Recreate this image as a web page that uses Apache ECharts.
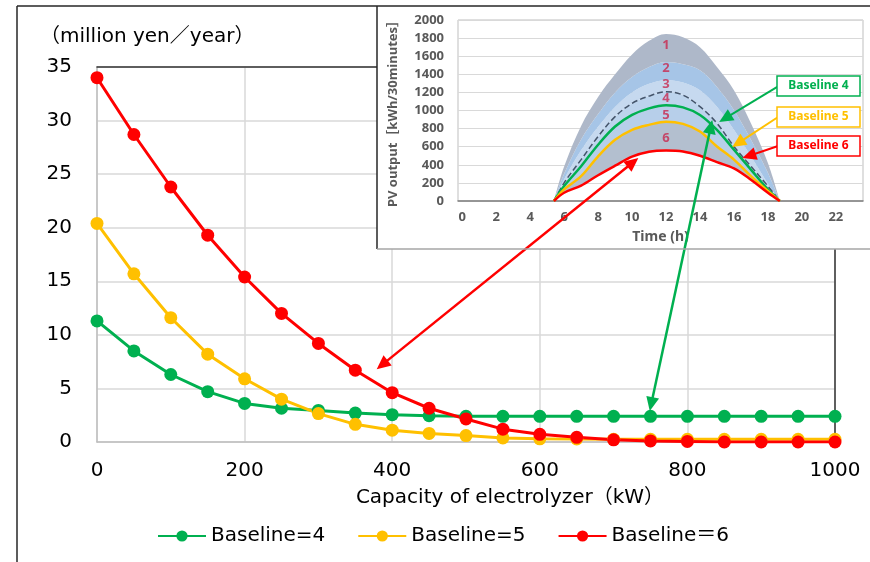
<!DOCTYPE html>
<html>
<head>
<meta charset="utf-8">
<script src="https://cdn.jsdelivr.net/npm/echarts@6/dist/echarts.min.js"></script>
<style>
html,body{margin:0;padding:0;background:#fff;}
#chart{width:870px;height:562px;}
</style>
</head>
<body>
<div id="chart"></div>
<script>
// ---------- Main chart data ----------
const capacityKW = [0,50,100,150,200,250,300,350,400,450,500,550,600,650,700,750,800,850,900,950,1000];
const baseline4 = [11.3,8.5,6.3,4.7,3.6,3.15,2.95,2.7,2.55,2.45,2.4,2.4,2.4,2.4,2.4,2.4,2.4,2.4,2.4,2.4,2.4];
const baseline5 = [20.4,15.7,11.6,8.2,5.9,4.0,2.65,1.65,1.1,0.8,0.6,0.38,0.3,0.28,0.25,0.25,0.25,0.25,0.25,0.25,0.25];
const baseline6 = [34.0,28.7,23.8,19.3,15.4,12.0,9.2,6.7,4.6,3.15,2.15,1.2,0.72,0.44,0.2,0.1,0.05,0.0,0.0,0.0,0.0];
const seriesNames = ['Baseline=4','Baseline=5','Baseline＝6'];
const xTicksMain = [0,200,400,600,800,1000];
const yTicksMain = [0,5,10,15,20,25,30,35];

// ---------- Inset (PV output) data ----------
const timeH    = [5.4, 6, 7, 8, 9, 10, 11, 12, 13, 14, 15, 16, 17, 18, 18.7];
const pvBand1  = [0, 380, 830, 1150, 1400, 1620, 1770, 1846, 1810, 1700, 1480, 1225, 860, 420, 0];
const pvBand2  = [0, 300, 680, 960, 1200, 1370, 1480, 1535, 1510, 1444, 1261, 1005, 676, 311, 0];
const pvBand3  = [0, 240, 560, 820, 1040, 1200, 1295, 1335, 1310, 1225, 1042, 786, 494, 190, 0];
const pvDashed = [0, 201, 457, 713, 932, 1079, 1159, 1207, 1170, 1042, 859, 603, 384, 165, 0];
const pvBase4  = [0, 165, 384, 622, 823, 951, 1024, 1058, 1035, 951, 786, 567, 347, 128, 0];
const pvBase5  = [0, 128, 274, 494, 676, 786, 841, 877, 852, 768, 603, 457, 274, 110, 0];
const pvBase6  = [0, 91, 170, 285, 390, 490, 545, 559, 548, 500, 430, 360, 235, 91, 0];
const timeTicks = [0,2,4,6,8,10,12,14,16,18,20,22];
const bandNames = ['1','2','3','4','5','6'];
const bandLabelT = [12,12,12,12,12,12];
const bandLabelV = [1724,1470,1293,1138,950,696];
const calloutNames = ['Baseline 4','Baseline 5','Baseline 6'];

const FONT = "'DejaVu Sans','Noto Sans CJK JP',sans-serif";
const SMALLFONT = "'Noto Sans','Noto Sans CJK JP',sans-serif";
const GREEN = '#00b050', YELLOW = '#ffc000', RED = '#ff0000';

const pairs = (xs, ys) => xs.map((x, i) => [x, ys[i]]);
const diff = (a, b) => a.map((v, i) => Math.max(0, v - b[i]));
const plain = v => String(v);

const chart = echarts.init(document.getElementById('chart'));

function mainSeries(name, data, color) {
  return {
    name, type: 'line', xAxisIndex: 0, yAxisIndex: 0,
    data: pairs(capacityKW, data),
    symbol: 'circle', symbolSize: 13,
    lineStyle: { color, width: 3 },
    itemStyle: { color },
    z: 2
  };
}

// stacked fills: value first so the value (y) dimension is the stacked one
function fillSeries(name, data, color) {
  return {
    name, type: 'line', xAxisIndex: 2, yAxisIndex: 2, stack: 'pv',
    data: timeH.map((t, i) => [data[i], t]),
    encode: { x: 1, y: 0 },
    smooth: 0.35, showSymbol: false, silent: true,
    lineStyle: { width: 0, opacity: 0 },
    areaStyle: color ? { color, opacity: 1 } : { opacity: 0 },
    z: 16
  };
}
function insetLine(name, data, color, width, type) {
  return {
    name, type: 'line', xAxisIndex: 2, yAxisIndex: 2,
    data: pairs(timeH, data), smooth: 0.35, showSymbol: false, silent: true,
    lineStyle: { color, width, type: type || 'solid' },
    z: 17
  };
}

const option = {
  animation: false,
  backgroundColor: '#fff',
  textStyle: { fontFamily: FONT },
  title: {
    text: '（million yen／year）', left: 35, top: 22,
    textStyle: { fontFamily: FONT, fontSize: 20, fontWeight: 'normal', color: '#000' }
  },
  legend: {
    data: seriesNames, left: 152, top: 521,
    itemWidth: 48, itemHeight: 14, itemGap: 32,
    textStyle: { fontFamily: FONT, fontSize: 20, color: '#000' }
  },
  grid: [
    { left: 97, right: 35, top: 67, bottom: 120 },
    { left: 458, right: 7, top: 20, bottom: 361, show: true, borderColor: '#bfbfbf', borderWidth: 1, backgroundColor: 'transparent', z: 15 }
  ],
  xAxis: [
    {
      type: 'value', gridIndex: 0, min: 0, max: 1000, interval: 200,
      axisLine: { show: true, lineStyle: { color: '#bfbfbf', width: 1.5 } },
      axisTick: { show: false },
      splitLine: { show: true, lineStyle: { color: '#d9d9d9', width: 1.5 } },
      axisLabel: { fontSize: 20, color: '#000', margin: 19, fontFamily: FONT,
        customValues: xTicksMain, formatter: plain },
      name: 'Capacity of electrolyzer（kW）', nameLocation: 'middle', nameGap: 46,
      nameTextStyle: { fontSize: 20, color: '#000', fontFamily: FONT, padding: [0, 0, 0, 88] }
    },
    {
      type: 'value', gridIndex: 0, position: 'top', min: 0, max: 1000,
      axisLine: { show: true, onZero: false, lineStyle: { color: '#333', width: 1.5 } },
      axisTick: { show: false }, axisLabel: { show: false }, splitLine: { show: false }
    },
    {
      type: 'value', gridIndex: 1, min: -0.25, max: 23.6, z: 15,
      axisLine: { show: true, onZero: false, lineStyle: { color: '#7f7f7f', width: 1.5 } },
      axisTick: { show: false }, splitLine: { show: false },
      axisLabel: { customValues: timeTicks, fontSize: 13, fontWeight: 'bold', color: '#595959', margin: 10, fontFamily: SMALLFONT, formatter: plain },
      name: 'Time (h)', nameLocation: 'middle', nameGap: 29,
      nameTextStyle: { fontSize: 14, fontWeight: 'bold', color: '#595959', fontFamily: SMALLFONT }
    }
  ],
  yAxis: [
    {
      type: 'value', gridIndex: 0, min: 0, max: 35, interval: 5,
      axisLine: { show: true, lineStyle: { color: '#bfbfbf', width: 1.5 } },
      axisTick: { show: false },
      splitLine: { show: true, lineStyle: { color: '#d9d9d9', width: 1.5 } },
      axisLabel: { fontSize: 20, color: '#000', margin: 25, fontFamily: FONT, customValues: yTicksMain, formatter: plain }
    },
    {
      type: 'value', gridIndex: 0, position: 'right', min: 0, max: 35,
      axisLine: { show: true, onZero: false, lineStyle: { color: '#333', width: 1.5 } },
      axisTick: { show: false }, axisLabel: { show: false }, splitLine: { show: false }
    },
    {
      type: 'value', gridIndex: 1, min: 0, max: 2000, interval: 200, z: 15,
      axisLine: { show: false }, axisTick: { show: false },
      splitLine: { show: true, lineStyle: { color: '#d9d9d9', width: 1 } },
      axisLabel: { fontSize: 13, fontWeight: 'bold', color: '#595959', margin: 14, fontFamily: SMALLFONT, formatter: plain },
      name: 'PV output［kWh/30minutes］', nameLocation: 'middle', nameGap: 58, nameRotate: 90,
      nameTextStyle: { fontSize: 13, fontWeight: 'bold', color: '#595959', fontFamily: SMALLFONT }
    }
  ],
  series: [
    mainSeries(seriesNames[0], baseline4, GREEN),
    mainSeries(seriesNames[1], baseline5, YELLOW),
    mainSeries(seriesNames[2], baseline6, RED),
    // inset stacked fills (regions between curves)
    fillSeries('base', pvBase6, null),
    fillSeries('r6', diff(pvBase5, pvBase6), '#b3bfcf'),
    fillSeries('r5', diff(pvBase4, pvBase5), '#b7cfea'),
    fillSeries('r4', diff(pvDashed, pvBase4), '#bdd4ed'),
    fillSeries('r3', diff(pvBand3, pvDashed), '#c6d9ef'),
    fillSeries('r2', diff(pvBand2, pvBand3), '#a6c5e7'),
    fillSeries('r1', diff(pvBand1, pvBand2), '#aeb8c9'),
    // inset curves
    insetLine('dashed', pvDashed, '#44546a', 1.5, 'dashed'),
    insetLine('b4', pvBase4, GREEN, 2.5),
    insetLine('b5', pvBase5, YELLOW, 2.5),
    insetLine('b6', pvBase6, RED, 2.5),
    {
      name: 'bandLabels', type: 'scatter', xAxisIndex: 2, yAxisIndex: 2, symbolSize: 0, silent: true, z: 18,
      data: bandNames.map((n, i) => ({ name: n, value: [bandLabelT[i], bandLabelV[i]] })),
      label: { show: true, position: 'inside', formatter: '{b}', color: '#c8284f', fontSize: 13, fontWeight: 'bold', fontFamily: SMALLFONT }
    }
  ]
};
chart.setOption(option);

function arrowEls(a, b, color, width, headA, headB, z) {
  const els = [];
  const dx = b[0] - a[0], dy = b[1] - a[1], len = Math.hypot(dx, dy);
  const ux = dx / len, uy = dy / len;
  const hl = 14, hw = 6.5;
  let s = a.slice(), e = b.slice();
  if (headA) s = [a[0] + ux * hl * 0.8, a[1] + uy * hl * 0.8];
  if (headB) e = [b[0] - ux * hl * 0.8, b[1] - uy * hl * 0.8];
  els.push({ type: 'line', silent: true, z, shape: { x1: s[0], y1: s[1], x2: e[0], y2: e[1] }, style: { stroke: color, lineWidth: width } });
  const head = (tip, vx, vy) => ({
    type: 'polygon', silent: true, z,
    shape: { points: [tip, [tip[0] - vx * hl - vy * hw, tip[1] - vy * hl + vx * hw], [tip[0] - vx * hl + vy * hw, tip[1] - vy * hl - vx * hw]] },
    style: { fill: color }
  });
  if (headB) els.push(head(b, ux, uy));
  if (headA) els.push(head(a, -ux, -uy));
  return els;
}
const pMain = v => chart.convertToPixel({ xAxisIndex: 0, yAxisIndex: 0 }, v);
const pIn = v => chart.convertToPixel({ xAxisIndex: 2, yAxisIndex: 2 }, v);

const graphics = [];
// outer frame
graphics.push({ type: 'line', silent: true, z: 40, shape: { x1: 17, y1: 6, x2: 17, y2: 562 }, style: { stroke: '#262626', lineWidth: 1.5 } });
graphics.push({ type: 'line', silent: true, z: 40, shape: { x1: 17, y1: 6, x2: 870, y2: 6 }, style: { stroke: '#262626', lineWidth: 1.5 } });
// inset background and borders
graphics.push({ type: 'rect', silent: true, z: 10, shape: { x: 377, y: 6, width: 493, height: 243 }, style: { fill: '#fff' } });
graphics.push({ type: 'line', silent: true, z: 40, shape: { x1: 377, y1: 6, x2: 377, y2: 249 }, style: { stroke: '#262626', lineWidth: 1.5 } });
graphics.push({ type: 'line', silent: true, z: 40, shape: { x1: 377, y1: 249, x2: 870, y2: 249 }, style: { stroke: '#a6a6a6', lineWidth: 1.5 } });

// callout boxes
const boxes = [
  { y: 76, color: GREEN },
  { y: 107, color: YELLOW },
  { y: 136, color: RED }
];
boxes.forEach((b, i) => {
  graphics.push({ type: 'rect', silent: true, z: 25, shape: { x: 777, y: b.y, width: 83, height: 20 }, style: { fill: '#fff', stroke: b.color, lineWidth: 1.5 } });
  graphics.push({ type: 'text', silent: true, z: 26, style: { x: 818.5, y: b.y + 10, text: calloutNames[i], fill: b.color, font: "bold 12px 'Noto Sans', sans-serif", align: 'center', verticalAlign: 'middle' } });
});

// callout arrows (inset coords)
graphics.push(...arrowEls(pIn([18.55, 1260]), pIn([15.13, 873]), GREEN, 2, false, true, 24));
graphics.push(...arrowEls(pIn([18.6, 928]), pIn([15.9, 597]), YELLOW, 2, false, true, 24));
graphics.push(...arrowEls(pIn([18.6, 608]), pIn([16.5, 475]), RED, 2, false, true, 24));
// linking double arrows
graphics.push(...arrowEls(pMain([379, 6.8]), pIn([10.37, 475]), RED, 2.5, true, true, 30));
graphics.push(...arrowEls(pMain([749, 2.9]), pIn([14.72, 895]), GREEN, 2.5, true, true, 30));

chart.setOption({ graphic: graphics });
</script>
</body>
</html>
